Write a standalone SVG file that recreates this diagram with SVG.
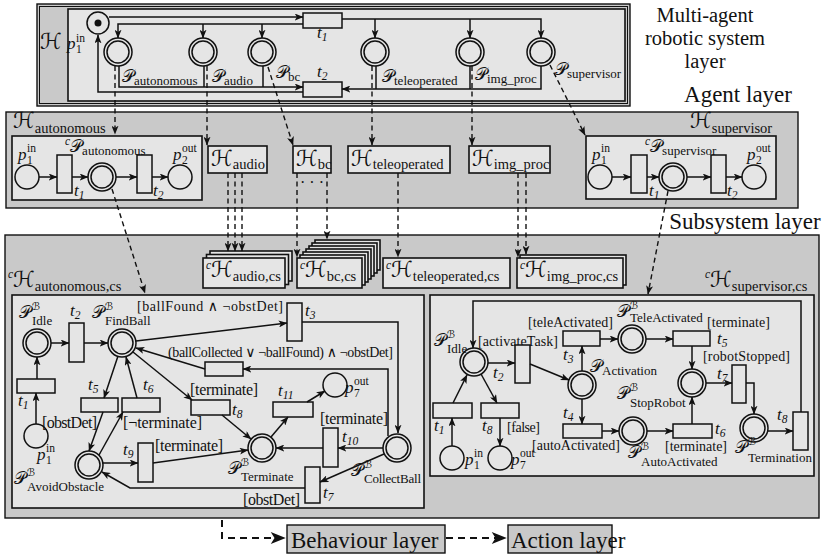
<svg xmlns="http://www.w3.org/2000/svg" width="826" height="554" viewBox="0 0 826 554">
<defs>
<marker id="ah" viewBox="0 0 10 8" markerWidth="9" markerHeight="7" refX="9.5" refY="4" orient="auto" markerUnits="userSpaceOnUse"><path d="M0,0 L10,4 L0,8 L2.5,4 z" fill="#111"/></marker>
<marker id="ahL" viewBox="0 0 10 8" markerWidth="17" markerHeight="12" refX="9.5" refY="4" orient="auto" markerUnits="userSpaceOnUse"><path d="M0,0 L10,4 L0,8 L2.5,4 z" fill="#111"/></marker>
<style>
text{font-family:"Liberation Serif","DejaVu Serif",serif;fill:#111}
.lay{fill:#c9c9c9;stroke:#111;stroke-width:1.4}
.box{fill:#e5e5e5;stroke:#111;stroke-width:1.6}
.tr{fill:#e5e5e5;stroke:#111;stroke-width:1.5}
.pl{fill:#e5e5e5;stroke:#111;stroke-width:1.5}
.c{fill:none;stroke:#111;stroke-width:1.5;marker-end:url(#ah)}
.j{fill:none;stroke:#111;stroke-width:1.5}
.d{fill:none;stroke:#111;stroke-width:1.4;stroke-dasharray:5 3.5;marker-end:url(#ah)}
.dL{fill:none;stroke:#111;stroke-width:2;stroke-dasharray:7 5;marker-end:url(#ahL)}
.cal{font-family:"DejaVu Serif","DejaVu Sans",serif;font-size:17px}
.calH{font-family:"DejaVu Serif","DejaVu Sans",serif;font-size:22px}
.mi{font-style:italic;font-size:17px}
.sb{font-size:13px}
.sbH{font-size:14.5px}
.ss{font-size:11.5px}
.sup{font-family:"DejaVu Serif","DejaVu Sans",serif;font-size:10.5px}
.g{font-size:14px}
.g2{font-size:16px}
.L{font-size:23px}
.L2{font-size:20.5px}
</style>
</defs>
<rect width="826" height="554" fill="#fff"/>

<!-- Multi-agent robotic system layer -->
<g id="mas-layer">
<rect x="37" y="4" width="593" height="102" class="lay"/>
<rect x="39.5" y="6.5" width="588" height="97" fill="none" stroke="#111" stroke-width="1"/>
<rect x="68" y="9" width="557" height="92" class="box"/>
<text class="calH" x="40" y="49">ℋ</text>
</g>
<g id="mas-p1in">
<circle cx="98" cy="23" r="11" class="pl"/><circle cx="98" cy="23" r="3.5" fill="#111"/>
<text class="mi" x="67" y="49">p</text><text class="ss" x="76" y="53">1</text><text class="ss" x="76" y="42">in</text>
</g>
<g id="mas-t1"><rect x="303" y="13" width="39" height="15" class="tr"/><text class="mi" x="317" y="38">t<tspan class="ss" dy="3">1</tspan></text></g>
<g id="mas-t2"><rect x="303" y="82" width="39" height="15" class="tr"/><text class="mi" x="317" y="77">t<tspan class="ss" dy="3">2</tspan></text></g>
<g id="mas-P-autonomous"><circle cx="118" cy="52" r="14" class="pl"/><circle cx="118" cy="52" r="11" class="pl"/><text x="122" y="82"><tspan class="cal">𝒫</tspan><tspan class="sb" dy="3">autonomous</tspan></text></g>
<g id="mas-P-audio"><circle cx="203" cy="52" r="14" class="pl"/><circle cx="203" cy="52" r="11" class="pl"/><text x="212" y="82"><tspan class="cal">𝒫</tspan><tspan class="sb" dy="3">audio</tspan></text></g>
<g id="mas-P-bc"><circle cx="262" cy="52" r="14" class="pl"/><circle cx="262" cy="52" r="11" class="pl"/><text x="276" y="78"><tspan class="cal">𝒫</tspan><tspan class="sb" dy="3">bc</tspan></text></g>
<g id="mas-P-teleoperated"><circle cx="375" cy="52" r="14" class="pl"/><circle cx="375" cy="52" r="11" class="pl"/><text x="382" y="82"><tspan class="cal">𝒫</tspan><tspan class="sb" dy="3">teleoperated</tspan></text></g>
<g id="mas-P-img-proc"><circle cx="470" cy="52" r="14" class="pl"/><circle cx="470" cy="52" r="11" class="pl"/><text x="475" y="80"><tspan class="cal">𝒫</tspan><tspan class="sb" dy="3">img_proc</tspan></text></g>
<g id="mas-P-supervisor"><circle cx="541" cy="52" r="14" class="pl"/><circle cx="541" cy="52" r="11" class="pl"/><text x="555" y="75"><tspan class="cal">𝒫</tspan><tspan class="sb" dy="3">supervisor</tspan></text></g>

<g id="layer-labels">
<text class="L2" x="705" y="22" text-anchor="middle">Multi-agent</text>
<text class="L2" x="705" y="45" text-anchor="middle">robotic system</text>
<text class="L2" x="705" y="68" text-anchor="middle">layer</text>
<text class="L" x="738" y="102" text-anchor="middle">Agent layer</text>
<text class="L" x="745" y="229" text-anchor="middle">Subsystem layer</text>
</g>

<!-- Agent layer -->
<g id="agent-layer"><rect x="6" y="112" width="792" height="96" class="lay"/></g>
<g id="H-autonomous">
<text x="13" y="128"><tspan class="calH">ℋ</tspan><tspan class="sbH" dy="5">autonomous</tspan></text>
<rect x="12" y="136" width="190" height="64" class="box"/>
<circle cx="27" cy="177" r="12" class="pl"/>
<text class="mi" x="18" y="160">p</text><text class="ss" x="27" y="164">1</text><text class="ss" x="27" y="152">in</text>
<rect x="57" y="155" width="15" height="38" class="tr"/>
<text class="mi" x="74" y="196">t<tspan class="ss" dy="3">1</tspan></text>
<circle cx="102" cy="177" r="14" class="pl"/><circle cx="102" cy="177" r="11" class="pl"/>
<text x="65" y="152"><tspan class="ss" font-style="italic" dy="-7">c</tspan><tspan class="cal" dy="7">𝒫</tspan><tspan class="sb" dy="3">autonomous</tspan></text>
<rect x="137" y="155" width="15" height="38" class="tr"/>
<text class="mi" x="153" y="196">t<tspan class="ss" dy="3">2</tspan></text>
<circle cx="180" cy="177" r="12" class="pl"/>
<text class="mi" x="173" y="160">p</text><text class="ss" x="182" y="164">2</text><text class="ss" x="182" y="152">out</text>
</g>
<g id="H-audio"><rect x="208" y="146" width="59" height="27" class="box"/><text x="211" y="166"><tspan class="calH">ℋ</tspan><tspan class="sbH" dy="3">audio</tspan></text></g>
<g id="H-bc"><rect x="293" y="146" width="38" height="27" class="box"/><text x="296" y="166"><tspan class="calH">ℋ</tspan><tspan class="sbH" dy="3">bc</tspan></text></g>
<g id="H-teleoperated"><rect x="348" y="146" width="102" height="27" class="box"/><text x="351" y="166"><tspan class="calH">ℋ</tspan><tspan class="sbH" dy="3">teleoperated</tspan></text></g>
<g id="H-img-proc"><rect x="469" y="146" width="81" height="27" class="box"/><text x="472" y="166"><tspan class="calH">ℋ</tspan><tspan class="sbH" dy="3">img_proc</tspan></text></g>
<g id="H-supervisor">
<text x="690" y="128"><tspan class="calH">ℋ</tspan><tspan class="sbH" dy="5">supervisor</tspan></text>
<rect x="586" y="136" width="190" height="63" class="box"/>
<circle cx="600" cy="177" r="12" class="pl"/>
<text class="mi" x="592" y="160">p</text><text class="ss" x="601" y="164">1</text><text class="ss" x="601" y="152">in</text>
<rect x="631" y="155" width="16" height="38" class="tr"/>
<text class="mi" x="649" y="196">t<tspan class="ss" dy="3">1</tspan></text>
<circle cx="673" cy="177" r="14" class="pl"/><circle cx="673" cy="177" r="11" class="pl"/>
<text x="645" y="152"><tspan class="ss" font-style="italic" dy="-7">c</tspan><tspan class="cal" dy="7">𝒫</tspan><tspan class="sb" dy="3">supervisor</tspan></text>
<rect x="711" y="155" width="15" height="38" class="tr"/>
<text class="mi" x="727" y="196">t<tspan class="ss" dy="3">2</tspan></text>
<circle cx="754" cy="177" r="12" class="pl"/>
<text class="mi" x="747" y="160">p</text><text class="ss" x="756" y="164">2</text><text class="ss" x="756" y="152">out</text>
</g>
<text id="bc-dots" x="312" y="188" font-size="16" text-anchor="middle">· · ·</text>

<!-- Subsystem layer -->
<g id="subsystem-layer"><rect x="5" y="235" width="814" height="283" class="lay"/></g>
<g id="cH-audio-cs">
<rect x="210" y="251" width="82" height="30" class="box"/><rect x="206.5" y="254.5" width="82" height="30" class="box"/><rect x="203" y="258" width="82" height="30" class="box"/>
<text x="206" y="277"><tspan class="ss" font-style="italic" dy="-8">c</tspan><tspan class="calH" dy="8">ℋ</tspan><tspan class="sbH" dy="4">audio,cs</tspan></text>
</g>
<g id="cH-bc-cs">
<rect x="315" y="240" width="65" height="30" class="box"/><rect x="312" y="243" width="65" height="30" class="box"/><rect x="309" y="246" width="65" height="30" class="box"/><rect x="306" y="249" width="65" height="30" class="box"/><rect x="303" y="252" width="65" height="30" class="box"/><rect x="300" y="255" width="65" height="30" class="box"/><rect x="297" y="258" width="65" height="30" class="box"/>
<text x="300" y="277"><tspan class="ss" font-style="italic" dy="-8">c</tspan><tspan class="calH" dy="8">ℋ</tspan><tspan class="sbH" dy="4">bc,cs</tspan></text>
</g>
<g id="cH-teleoperated-cs">
<rect x="383" y="258" width="127" height="30" class="box"/>
<text x="386" y="277"><tspan class="ss" font-style="italic" dy="-8">c</tspan><tspan class="calH" dy="8">ℋ</tspan><tspan class="sbH" dy="4">teleoperated,cs</tspan></text>
</g>
<g id="cH-img-proc-cs">
<rect x="520" y="255" width="106" height="30" class="box"/><rect x="517" y="258" width="106" height="30" class="box"/>
<text x="520" y="277"><tspan class="ss" font-style="italic" dy="-8">c</tspan><tspan class="calH" dy="8">ℋ</tspan><tspan class="sbH" dy="4">img_proc,cs</tspan></text>
</g>

<!-- autonomous cs -->
<g id="cH-autonomous-cs">
<text x="8" y="287"><tspan class="ss" font-style="italic" dy="-9">c</tspan><tspan class="calH" dy="9">ℋ</tspan><tspan class="sbH" dy="4">autonomous,cs</tspan></text>
<rect x="12" y="295" width="412" height="213" class="box"/>
</g>
<g id="a-Idle"><circle cx="37" cy="343" r="14" class="pl"/><circle cx="37" cy="343" r="11" class="pl"/>
<text class="cal" x="19" y="318">𝒫</text><text class="sup" x="32" y="310">ℬ</text><text class="sb" x="32" y="325">Idle</text></g>
<g id="a-t2"><rect x="69" y="323" width="15" height="39" class="tr"/><text class="mi" x="70" y="316">t<tspan class="ss" dy="3">2</tspan></text></g>
<g id="a-FindBall"><circle cx="122" cy="343" r="14" class="pl"/><circle cx="122" cy="343" r="11" class="pl"/>
<text class="cal" x="92" y="318">𝒫</text><text class="sup" x="105" y="310">ℬ</text><text class="sb" x="105" y="325">FindBall</text></g>
<g id="a-t3"><rect x="287" y="303" width="15" height="38" class="tr"/><text class="mi" x="305" y="316">t<tspan class="ss" dy="3">3</tspan></text>
<text class="g" x="137" y="311" textLength="146">[ballFound ∧ ¬obstDet]</text></g>
<g id="a-tr-back"><rect x="205" y="362" width="38" height="14" class="tr"/>
<text class="g" x="168" y="357" textLength="225">(ballCollected ∨ ¬ballFound) ∧ ¬obstDet]</text></g>
<g id="a-t1"><rect x="17" y="379" width="38" height="14" class="tr"/><text class="mi" x="18" y="406">t<tspan class="ss" dy="3">1</tspan></text></g>
<g id="a-p1in"><circle cx="36" cy="436" r="12" class="pl"/>
<text class="mi" x="37" y="460">p</text><text class="ss" x="46" y="464">1</text><text class="ss" x="46" y="452">in</text>
<text class="g2" x="42" y="428" textLength="55">[obstDet]</text></g>
<g id="a-t5"><rect x="81" y="398" width="37" height="14" class="tr"/><text class="mi" x="88" y="390">t<tspan class="ss" dy="3">5</tspan></text></g>
<g id="a-t6"><rect x="122" y="398" width="38" height="14" class="tr"/><text class="mi" x="143" y="390">t<tspan class="ss" dy="3">6</tspan></text>
<text class="g2" x="123" y="428" textLength="79">[¬terminate]</text></g>
<g id="a-t8"><rect x="191" y="400" width="39" height="15" class="tr"/><text class="mi" x="232" y="415">t<tspan class="ss" dy="3">8</tspan></text>
<text class="g2" x="190" y="395" textLength="68">[terminate]</text></g>
<g id="a-t11"><rect x="273" y="402" width="40" height="15" class="tr"/><text class="mi" x="278" y="396">t<tspan class="ss" dy="3">11</tspan></text></g>
<g id="a-p7out"><circle cx="335" cy="385" r="12" class="pl"/>
<text class="mi" x="345" y="393">p</text><text class="ss" x="354" y="397">7</text><text class="ss" x="354" y="385">out</text></g>
<g id="a-AvoidObstacle"><circle cx="89" cy="465" r="14" class="pl"/><circle cx="89" cy="465" r="11" class="pl"/>
<text class="cal" x="14" y="484">𝒫</text><text class="sup" x="27" y="476">ℬ</text><text class="sb" x="27" y="491">AvoidObstacle</text></g>
<g id="a-t9"><rect x="138" y="443" width="15" height="39" class="tr"/><text class="mi" x="123" y="455">t<tspan class="ss" dy="3">9</tspan></text>
<text class="g2" x="155" y="451" textLength="68">[terminate]</text></g>
<g id="a-Terminate"><circle cx="262" cy="448" r="14" class="pl"/><circle cx="262" cy="448" r="11" class="pl"/>
<text class="cal" x="228" y="474">𝒫</text><text class="sup" x="241" y="466">ℬ</text><text class="sb" x="241" y="481">Terminate</text></g>
<g id="a-t10"><rect x="323" y="428" width="15" height="39" class="tr"/><text class="mi" x="342" y="442">t<tspan class="ss" dy="3">10</tspan></text>
<text class="g2" x="320" y="424" textLength="68">[terminate]</text></g>
<g id="a-CollectBall"><circle cx="397" cy="448" r="14" class="pl"/><circle cx="397" cy="448" r="11" class="pl"/>
<text class="cal" x="351" y="476">𝒫</text><text class="sup" x="364" y="468">ℬ</text><text class="sb" x="364" y="483" textLength="57">CollectBall</text></g>
<g id="a-t7"><rect x="305" y="467" width="15" height="36" class="tr"/><text class="mi" x="323" y="498">t<tspan class="ss" dy="3">7</tspan></text>
<text class="g2" x="243" y="505" textLength="57">[obstDet]</text></g>

<!-- supervisor cs -->
<g id="cH-supervisor-cs">
<text x="705" y="287"><tspan class="ss" font-style="italic" dy="-9">c</tspan><tspan class="calH" dy="9">ℋ</tspan><tspan class="sbH" dy="4">supervisor,cs</tspan></text>
<rect x="430" y="295" width="384" height="181" class="box"/>
</g>
<g id="s-Idle"><circle cx="474" cy="362" r="14" class="pl"/><circle cx="474" cy="362" r="11" class="pl"/>
<text class="cal" x="434" y="346">𝒫</text><text class="sup" x="447" y="338">ℬ</text><text class="sb" x="447" y="353">Idle</text>
<text class="g" x="478" y="346" textLength="80">[activateTask]</text></g>
<g id="s-t2"><rect x="515" y="345" width="15" height="38" class="tr"/><text class="mi" x="493" y="378">t<tspan class="ss" dy="3">2</tspan></text></g>
<g id="s-Activation"><circle cx="582" cy="385" r="14" class="pl"/><circle cx="582" cy="385" r="11" class="pl"/>
<text x="590" y="372"><tspan class="cal">𝒫</tspan><tspan class="sb" dy="3">Activation</tspan></text></g>
<g id="s-t3"><rect x="563" y="331" width="37" height="15" class="tr"/><text class="mi" x="563" y="360">t<tspan class="ss" dy="3">3</tspan></text>
<text class="g" x="528" y="327" textLength="85">[teleActivated]</text></g>
<g id="s-TeleActivated"><circle cx="632" cy="339" r="14" class="pl"/><circle cx="632" cy="339" r="11" class="pl"/>
<text class="cal" x="617" y="317">𝒫</text><text class="sup" x="630" y="309">ℬ</text><text class="sb" x="630" y="322">TeleActivated</text></g>
<g id="s-t5"><rect x="673" y="331" width="37" height="15" class="tr"/><text class="mi" x="717" y="344">t<tspan class="ss" dy="3">5</tspan></text>
<text class="g" x="707" y="327" textLength="63">[terminate]</text></g>
<g id="s-StopRobot"><circle cx="692" cy="383" r="14" class="pl"/><circle cx="692" cy="383" r="11" class="pl"/>
<text class="cal" x="617" y="399">𝒫</text><text class="sup" x="630" y="391">ℬ</text><text class="sb" x="630" y="407">StopRobot</text></g>
<g id="s-t7"><rect x="732" y="365" width="14" height="38" class="tr"/><text class="mi" x="717" y="379">t<tspan class="ss" dy="3">7</tspan></text>
<text class="g" x="703" y="361" textLength="87">[robotStopped]</text></g>
<g id="s-t4"><rect x="563" y="424" width="39" height="14" class="tr"/><text class="mi" x="563" y="418">t<tspan class="ss" dy="3">4</tspan></text>
<text class="g" x="532" y="450" textLength="88">[autoActivated]</text></g>
<g id="s-AutoActivated"><circle cx="633" cy="431" r="14" class="pl"/><circle cx="633" cy="431" r="11" class="pl"/>
<text class="cal" x="628" y="458">𝒫</text><text class="sup" x="641" y="450">ℬ</text><text class="sb" x="641" y="466">AutoActivated</text></g>
<g id="s-t6"><rect x="673" y="424" width="39" height="14" class="tr"/><text class="mi" x="715" y="434">t<tspan class="ss" dy="3">6</tspan></text>
<text class="g" x="665" y="451" textLength="62">[terminate]</text></g>
<g id="s-Termination"><circle cx="754" cy="428" r="14" class="pl"/><circle cx="754" cy="428" r="11" class="pl"/>
<text class="cal" x="735" y="453">𝒫</text><text class="sup" x="748" y="445">ℬ</text><text class="sb" x="748" y="462" textLength="64">Termination</text></g>
<g id="s-t8r"><rect x="793" y="412" width="15" height="38" class="tr"/><text class="mi" x="777" y="420">t<tspan class="ss" dy="3">8</tspan></text></g>
<g id="s-t1"><rect x="433" y="403" width="39" height="15" class="tr"/><text class="mi" x="434" y="431">t<tspan class="ss" dy="3">1</tspan></text></g>
<g id="s-t8l"><rect x="481" y="403" width="38" height="15" class="tr"/><text class="mi" x="482" y="431">t<tspan class="ss" dy="3">8</tspan></text>
<text class="g" x="507" y="432" textLength="33">[false]</text></g>
<g id="s-p1in"><circle cx="452" cy="458" r="12" class="pl"/>
<text class="mi" x="465" y="465">p</text><text class="ss" x="474" y="469">1</text><text class="ss" x="474" y="457">in</text></g>
<g id="s-p7out"><circle cx="500" cy="458" r="12" class="pl"/>
<text class="mi" x="511" y="465">p</text><text class="ss" x="520" y="469">7</text><text class="ss" x="520" y="457">out</text></g>

<!-- legend -->
<g id="behaviour-layer"><rect x="287" y="525" width="158" height="28" class="lay"/><text class="L" x="291" y="548">Behaviour layer</text></g>
<g id="action-layer"><rect x="508" y="525" width="104" height="28" class="lay"/><text class="L" x="511" y="548">Action layer</text></g>

<g id="connectors">
<path class="c" d="M109,17 H303"/>
<path class="c" d="M303,24 H118 V38"/>
<path class="c" d="M203,24 V38"/>
<path class="c" d="M262,24 V38"/>
<path class="c" d="M342,19 H541 V38"/>
<path class="c" d="M375,19 V38"/>
<path class="c" d="M470,19 V38"/>
<path class="c" d="M119,66 V87 H303"/>
<path class="j" d="M204,66 V87"/>
<path class="j" d="M263,66 V87"/>
<path class="c" d="M541,66 V89 H342"/>
<path class="j" d="M376,66 V89"/>
<path class="j" d="M470,66 V89"/>
<path class="c" d="M303,92 H98 V35"/>

<path class="d" d="M115,66 V134"/>
<path class="d" d="M207,66 V145"/>
<path class="d" d="M268,67 L293,145"/>
<path class="d" d="M372,66 V145"/>
<path class="d" d="M472,66 V145"/>
<path class="d" d="M550,65 L585,135"/>

<path class="c" d="M39,177 H57"/><path class="c" d="M72,177 H88"/><path class="c" d="M116,177 H137"/><path class="c" d="M152,177 H168"/>
<path class="c" d="M612,177 H631"/><path class="c" d="M647,177 H659"/><path class="c" d="M687,177 H711"/><path class="c" d="M726,177 H742"/>

<path class="d" d="M228,173 V251"/><path class="d" d="M235,173 V251"/><path class="d" d="M242,173 V251"/>
<path class="d" d="M297,173 V257"/><path class="d" d="M327,173 V239"/>
<path class="d" d="M398,173 V257"/>
<path class="d" d="M518,173 V257"/><path class="d" d="M526,173 V254"/>
<path class="d" d="M112,189 L145,293"/>
<path class="d" d="M668,191 L648,294"/>

<path class="c" d="M51,343 H69"/>
<path class="c" d="M84,343 H108"/>
<path class="c" d="M136,341 L287,323"/>
<path class="c" d="M302,322 H398 V433"/>
<path class="c" d="M388,436 V369 H243"/>
<path class="c" d="M205,369 L136,348"/>
<path class="c" d="M37,379 V357"/>
<path class="c" d="M36,424 V393"/>
<path class="c" d="M118,356 L104,398"/>
<path class="c" d="M137,398 L126,357"/>
<path class="c" d="M133,352 L192,400"/>
<path class="c" d="M103,412 L89,451"/>
<path class="c" d="M99,455 L123,412"/>
<path class="c" d="M103,463 H138"/>
<path class="c" d="M153,463 L248,450"/>
<path class="c" d="M222,415 L251,439"/>
<path class="c" d="M271,437 L288,417"/>
<path class="c" d="M307,402 L325,391"/>
<path class="c" d="M383,448 H338"/>
<path class="c" d="M323,448 H276"/>
<path class="c" d="M384,454 L320,482"/>
<path class="c" d="M305,488 H130 L102,472"/>

<path class="c" d="M801,412 V301 H473 V348"/>
<path class="c" d="M488,363 H515"/>
<path class="c" d="M530,364 L569,380"/>
<path class="c" d="M582,371 V346"/>
<path class="c" d="M600,339 H618"/>
<path class="c" d="M646,339 H673"/>
<path class="c" d="M692,346 V369"/>
<path class="c" d="M582,399 V424"/>
<path class="c" d="M602,431 H619"/>
<path class="c" d="M647,431 H673"/>
<path class="c" d="M692,424 V397"/>
<path class="c" d="M706,383 H732"/>
<path class="c" d="M746,383 H754 V414"/>
<path class="c" d="M768,431 H793"/>
<path class="c" d="M452,446 V418"/>
<path class="c" d="M453,403 L467,375"/>
<path class="c" d="M481,374 L497,403"/>
<path class="c" d="M500,418 V446"/>

<path class="dL" d="M222,520 V538 H285"/>
<path class="dL" d="M446,538 H506"/>
</g>
</svg>
